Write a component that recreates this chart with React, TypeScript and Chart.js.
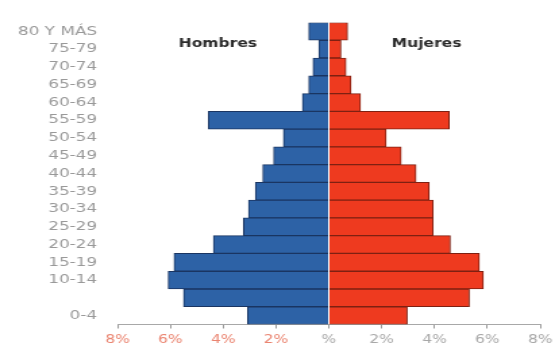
import React, { useEffect, useRef } from "react";
import { Chart, registerables } from "chart.js";

Chart.register(...registerables);

const ageGroups = [
  "80 Y MÁS", "75-79", "70-74", "65-69", "60-64", "55-59", "50-54", "45-49",
  "40-44", "35-39", "30-34", "25-29", "20-24", "15-19", "10-14", "", "0-4",
];
const hombres = [0.76, 0.38, 0.6, 0.76, 1.0, 4.56, 1.72, 2.09, 2.5, 2.78, 3.04, 3.23, 4.37, 5.86, 6.08, 5.5, 3.08];
const mujeres = [0.71, 0.46, 0.65, 0.84, 1.2, 4.56, 2.17, 2.74, 3.3, 3.8, 3.95, 3.95, 4.6, 5.7, 5.85, 5.32, 2.97];
const xTicks = [-8, -6, -4, -2, 0, 2, 4, 6, 8];
const titles = [
  { text: "Hombres", at: -4.2 },
  { text: "Mujeres", at: 3.7 },
];

const STRETCH = 555 / 411;
const W = 411;
const H = 347;

const titlePlugin = {
  id: "sideTitles",
  afterDraw(chart: any) {
    const { ctx } = chart;
    const xs = chart.scales.x;
    ctx.save();
    ctx.font = "bold 11.5px 'DejaVu Sans', sans-serif";
    ctx.fillStyle = "#2a2a2a";
    ctx.textAlign = "center";
    ctx.textBaseline = "middle";
    titles.forEach((t) => {
      ctx.fillText(t.text, xs.getPixelForValue(t.at), 44);
    });
    ctx.restore();
  },
};

export default function App() {
  const ref = useRef<HTMLCanvasElement>(null);
  useEffect(() => {
    if (!ref.current) return;
    const chart = new Chart(ref.current, {
      type: "bar",
      data: {
        labels: ageGroups,
        datasets: [
          {
            label: "Hombres",
            data: hombres.map((v) => -v),
            backgroundColor: "#2d62a6",
            borderColor: "#1a3562",
            borderWidth: 1,
            barPercentage: 1,
            categoryPercentage: 1,
          },
          {
            label: "Mujeres",
            data: mujeres,
            backgroundColor: "#ee3a1f",
            borderColor: "#7e2012",
            borderWidth: 1,
            barPercentage: 1,
            categoryPercentage: 1,
          },
        ],
      },
      options: {
        indexAxis: "y",
        responsive: false,
        maintainAspectRatio: false,
        animation: false,
        layout: { padding: { top: 15, right: 11, left: 0, bottom: 0 } },
        plugins: {
          legend: { display: false },
          tooltip: { enabled: false },
        },
        scales: {
          x: {
            stacked: true,
            min: -8,
            max: 8,
            afterBuildTicks: (scale: any) => {
              scale.ticks = xTicks.map((v) => ({ value: v }));
            },
            afterFit: (scale: any) => {
              scale.height = 20;
              scale.paddingLeft = 0;
              scale.paddingRight = 0;
            },
            grid: {
              drawOnChartArea: false,
              drawTicks: true,
              tickLength: 4,
              color: "#9a9a9a",
            },
            border: { display: true, color: "#a8a8a8", width: 1 },
            ticks: {
              autoSkip: false,
              maxRotation: 0,
              padding: 5,
              font: { family: "'DejaVu Sans', sans-serif", size: 11.5 },
              color: (c: any) => (c.tick && c.tick.value < 0 ? "#ea8470" : "#a8a8a8"),
              callback: (v: any) => (Number(v) === 0 ? "%" : Math.abs(Number(v)) + "%"),
            },
          },
          y: {
            stacked: true,
            afterFit: (scale: any) => {
              scale.width = 87;
            },
            grid: { display: false, drawTicks: false },
            border: { display: false },
            ticks: {
              autoSkip: false,
              padding: 15,
              font: { family: "'DejaVu Sans', sans-serif", size: 12.5 },
              color: "#999999",
            },
          },
        },
      },
      plugins: [titlePlugin],
    } as any);
    return () => chart.destroy();
  }, []);
  return (
    <div style={{ position: "absolute", left: 0, top: 0, width: 555, height: 347, background: "#fff" }}>
      <canvas
        ref={ref}
        width={W}
        height={H}
        style={{ width: `${W * STRETCH}px`, height: `${H}px`, display: "block" }}
      />
    </div>
  );
}
